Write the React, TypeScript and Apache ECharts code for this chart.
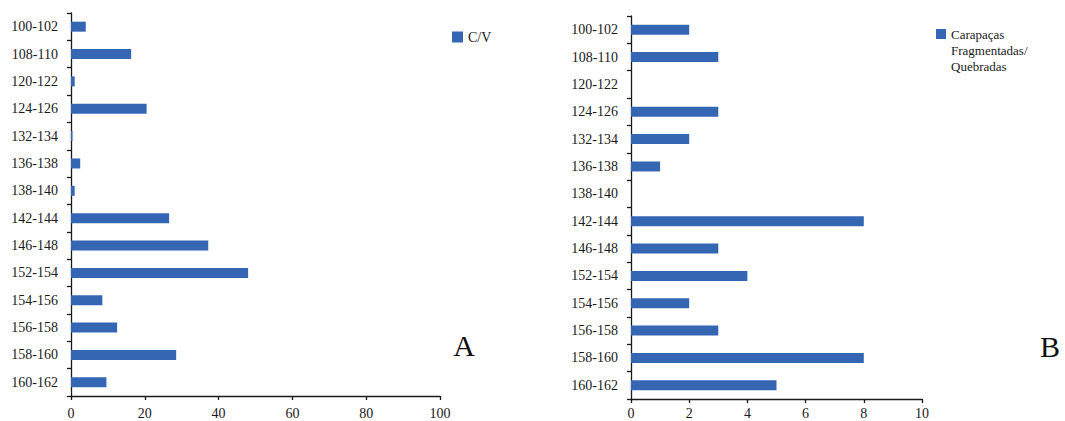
import React, { useEffect, useRef } from "react";
import * as echarts from "echarts";

// Carapace-length classes (mm)
const categories = [
  "100-102", "108-110", "120-122", "124-126", "132-134", "136-138", "138-140",
  "142-144", "146-148", "152-154", "154-156", "156-158", "158-160", "160-162",
];

// Panel A: C/V
const cvName = "C/V";
const cvValues = [4, 16.3, 1, 20.5, 0.4, 2.5, 1, 26.6, 37.2, 48, 8.5, 12.5, 28.5, 9.6];

// Panel B: fragmented / broken carapaces
const fragName = "Carapaças Fragmentadas/ Quebradas";
const fragLegendLines = ["Carapaças", "Fragmentadas/", "Quebradas"];
const fragValues = [2, 3, 0, 3, 2, 1, 0, 8, 3, 4, 2, 3, 8, 5];

const panelLetters = ["A", "B"];

const FONT = "'Liberation Serif', 'Times New Roman', serif";
const BAR = "#3566b4";
const INK = "#1a1a1a";

const catAxis = (gridIndex: number) => ({
  type: "category" as const,
  gridIndex,
  data: categories,
  inverse: true,
  axisLine: { show: true, lineStyle: { color: INK, width: 1.3 } },
  axisTick: { show: true, inside: false, length: 4, lineStyle: { color: INK, width: 1.3 } },
  axisLabel: { fontFamily: FONT, fontSize: 14, color: INK, margin: 13 },
  splitLine: { show: false },
});

const valAxis = (gridIndex: number, max: number, interval: number, margin: number) => ({
  type: "value" as const,
  gridIndex,
  min: 0,
  max,
  interval,
  axisLine: { show: true, lineStyle: { color: INK, width: 1.3 } },
  axisTick: { show: true, length: 4, lineStyle: { color: INK, width: 1.3 } },
  axisLabel: { fontFamily: FONT, fontSize: 14, lineHeight: 14, color: INK, margin },
  splitLine: { show: false },
});

export default function App() {
  const ref = useRef<HTMLDivElement>(null);

  useEffect(() => {
    if (!ref.current) return;
    const chart = echarts.init(ref.current, null, { renderer: "svg" });
    chart.setOption({
      animation: false,
      backgroundColor: "#ffffff",
      grid: [
        { left: 71, top: 13, width: 369, height: 383, outerBoundsMode: "none", containLabel: false },
        { left: 631, top: 16, width: 291, height: 383, outerBoundsMode: "none", containLabel: false },
      ],
      xAxis: [valAxis(0, 100, 20, 10), valAxis(1, 10, 2, 7)],
      yAxis: [catAxis(0), catAxis(1)],
      legend: [
        {
          data: [cvName],
          left: 452,
          top: 30,
          padding: 0,
          itemWidth: 11,
          itemHeight: 11,
          itemGap: 6,
          icon: "rect",
          textStyle: { fontFamily: FONT, fontSize: 14, color: INK },
          selectedMode: false,
        },
      ],
      series: [
        {
          name: cvName,
          type: "bar",
          xAxisIndex: 0,
          yAxisIndex: 0,
          data: cvValues,
          barWidth: 10,
          itemStyle: { color: BAR },
        },
        {
          name: fragName,
          type: "bar",
          xAxisIndex: 1,
          yAxisIndex: 1,
          data: fragValues,
          barWidth: 10,
          itemStyle: { color: BAR },
        },
      ],
      graphic: [
        // legend for panel B, text wrapped over three lines
        {
          type: "rect",
          left: 936,
          top: 29,
          shape: { width: 10, height: 10 },
          style: { fill: BAR },
        },
        {
          type: "text",
          left: 951,
          top: 26,
          style: {
            text: fragLegendLines.join("\n"),
            fontFamily: FONT,
            fontSize: 13,
            lineHeight: 16,
            fill: INK,
          },
        },
        {
          type: "text",
          x: 464,
          y: 345,
          style: {
            text: panelLetters[0],
            fontFamily: FONT,
            fontSize: 30,
            fill: "#111",
            align: "center",
            verticalAlign: "middle",
          },
        },
        {
          type: "text",
          x: 1050,
          y: 346,
          style: {
            text: panelLetters[1],
            fontFamily: FONT,
            fontSize: 30,
            fill: "#111",
            align: "center",
            verticalAlign: "middle",
          },
        },
      ],
    });
    return () => chart.dispose();
  }, []);

  return (
    <div
      ref={ref}
      style={{ position: "fixed", left: 0, top: 0, width: 1065, height: 421, background: "#fff" }}
    />
  );
}
